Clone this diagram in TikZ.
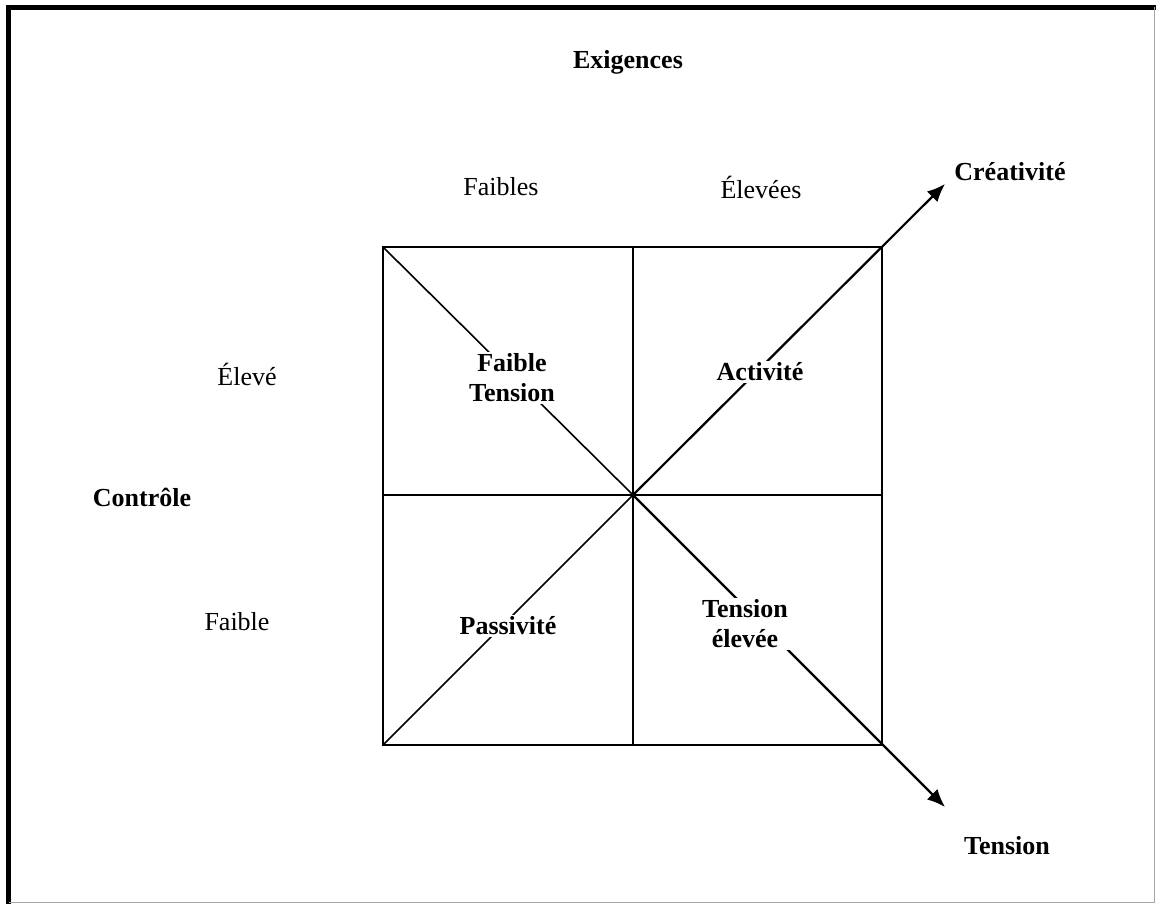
\documentclass[tikz,border=0pt]{standalone}
\usepackage{fontspec}
\setmainfont{Liberation Serif}
\usetikzlibrary{arrows.meta,positioning}
\tikzset{
    lab/.style={font=\fontsize{13}{15}\selectfont},
    blab/.style={font=\fontsize{13}{15}\selectfont\bfseries, align=center, inner sep=1pt},
    cell/.style={blab, fill=white},
    grid/.style={line width=0.8pt},
    axis/.style={line width=1.1pt, -{Latex[length=9pt,width=7.5pt]}}
}
\begin{document}
\begin{tikzpicture}[x=0.5pt,y=-0.5pt]
                        \useasboundingbox (0,0) rectangle (1156,904);
                        \draw[line width=2.8pt] (8.5,904) -- (8.5,7.5) -- (1156,7.5);
                        \draw[gray!70,line width=0.6pt] (1154.5,7.5) -- (1154.5,902.5) -- (8.5,902.5);
                        \coordinate (tl) at (383,247);
                        \coordinate (tr) at (882,247);
                        \coordinate (bl) at (383,745);
                        \coordinate (br) at (882,745);
                        \coordinate (c) at (633,495);
                        \coordinate (tm) at (633,247);
                        \coordinate (bm) at (633,745);
                        \coordinate (ml) at (383,495);
                        \coordinate (mr) at (882,495);
                        \coordinate (crx) at (945,184);
                        \coordinate (tnx) at (945,807);
                        \draw[grid] (tl) rectangle (br);
                        \draw[grid] (tm) -- (bm) (ml) -- (mr);
                        \draw[grid] (tl) -- (c) (bl) -- (c);
                        \draw[axis] (c) -- (crx);
                        \draw[axis] (c) -- (tnx);
                        \node[blab] (ex) at (628,62) {Exigences};
                        \node[lab] (fs) at (501,187) {Faibles};
                        \node[lab] (es) at (761,187) {Élevées};
                        \node[blab] (cr) at (1010,172) {Créativité};
                        \node[lab] (ev) at (247,374) {Élevé};
                        \node[blab] (co) at (142,497) {Contrôle};
                        \node[lab] (fa) at (237,622) {Faible};
                        \node[cell] (ft) at (512,378) {Faible\\Tension};
                        \node[cell] (ac) at (760,372) {Activité};
                        \node[cell] (pa) at (508,626) {Passivité};
                        \node[cell] (te) at (745,624) {Tension\\élevée};
                        \node[blab] (tn) at (1007,846) {Tension};
                    \end{tikzpicture}
\end{document}
